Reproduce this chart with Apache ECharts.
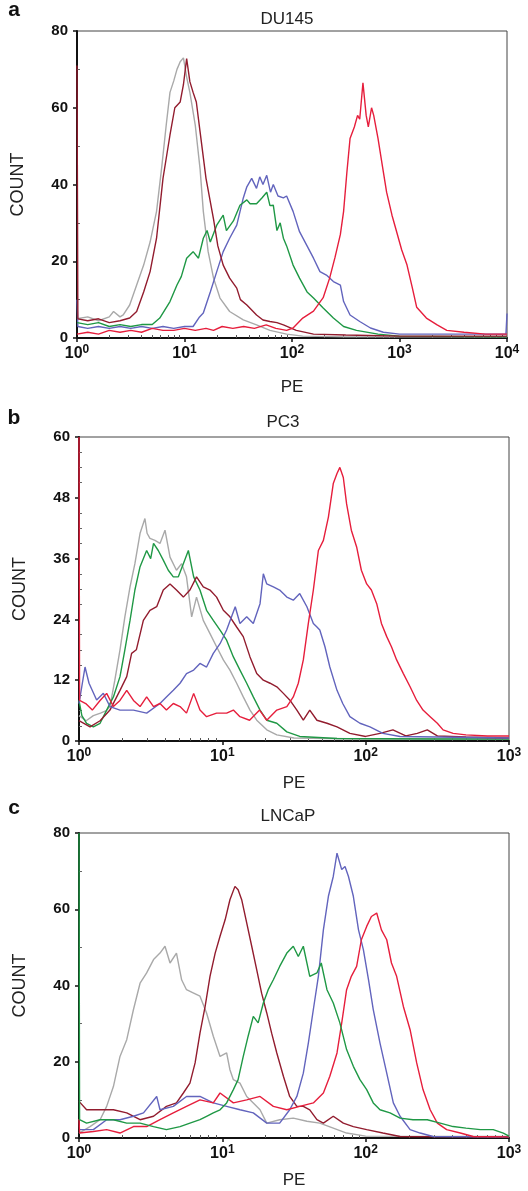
<!DOCTYPE html>
<html>
<head>
<meta charset="utf-8">
<script src="https://cdn.jsdelivr.net/npm/echarts@6/dist/echarts.min.js"></script>
<style>
html,body{margin:0;padding:0;background:#fff;}
#chart{width:528px;height:1191px;}
</style>
</head>
<body>
<div id="chart"></div>
<script>
// x values are in decades: log10(PE); y values are COUNT
const panelLetters = ['a', 'b', 'c'];
const panelTitles = ['DU145', 'PC3', 'LNCaP'];
const xDecades = [4, 3, 3];
const yMax = [80, 60, 80];
const yInterval = [20, 12, 20];
const yMinorStep = [10, 3, 10];
const minorMultipliers = [2, 3, 4, 5, 6, 7, 8, 9];

// ---- Panel a: DU145 ----
const du145_gray = [[0,5],[0.1,5.5],[0.2,4.5],[0.3,5.5],[0.34,6.9],[0.4,5.5],[0.43,6],[0.49,8.6],[0.555,13.8],[0.62,19],[0.68,25],[0.74,33],[0.79,45],[0.83,55.5],[0.865,64],[0.9,67],[0.93,70],[0.96,72],[0.99,73],[1.02,68],[1.05,64],[1.1,55.5],[1.145,44],[1.175,33],[1.22,22.5],[1.27,15.6],[1.33,10.4],[1.42,6.9],[1.547,4.7],[1.67,3.4],[1.795,2],[1.95,1],[2.1,0.5],[2.5,0.3],[4,0.3]];
const du145_blue = [[0,10],[0.008,3],[0.1,2.5],[0.2,3],[0.3,2.5],[0.4,3],[0.5,2.5],[0.6,3],[0.7,2.5],[0.8,3],[0.9,2.5],[1.0,3],[1.08,3],[1.14,5.5],[1.175,6.5],[1.24,12],[1.3,17.3],[1.36,22.5],[1.42,26],[1.486,29.4],[1.547,36.5],[1.58,39.4],[1.625,41.6],[1.67,39],[1.70,42],[1.73,40],[1.765,42.4],[1.8,38],[1.826,40],[1.87,37],[1.92,36.5],[1.95,37],[2.01,33],[2.07,27.7],[2.14,24],[2.2,20.8],[2.26,17.3],[2.32,16.4],[2.385,14.7],[2.45,13.8],[2.48,9.5],[2.54,6],[2.63,4.3],[2.73,2.6],[2.85,1.5],[3,1],[3.5,1],[3.99,1],[4,6.4]];
const du145_green = [[0,4],[0.1,3.5],[0.2,4],[0.3,3],[0.4,3.5],[0.5,3],[0.6,3.5],[0.7,3.5],[0.77,5.2],[0.865,9.5],[0.93,13.8],[0.97,16],[1.02,20.8],[1.08,22.5],[1.13,20.8],[1.175,26],[1.21,28],[1.24,25],[1.3,29.4],[1.36,32],[1.39,28],[1.455,30.5],[1.516,34.6],[1.58,36],[1.61,35],[1.67,35],[1.72,36.5],[1.765,38],[1.795,34.5],[1.826,34.6],[1.86,28],[1.89,30],[1.92,26],[1.95,24],[2.01,19],[2.07,15.6],[2.14,12],[2.2,10.4],[2.29,7.8],[2.385,5.2],[2.48,3],[2.6,2],[2.8,1],[3,0.5],[4,0.3]];
const du145_maroon = [[0,71],[0.008,5],[0.1,4.5],[0.2,5],[0.3,4],[0.4,4.5],[0.49,5.2],[0.555,6.9],[0.62,12],[0.68,17.3],[0.74,26],[0.8,41.6],[0.865,52.9],[0.91,60],[0.96,61.5],[0.99,66],[1.02,72.8],[1.05,66.8],[1.08,64],[1.11,61.5],[1.145,53.7],[1.2,41.6],[1.27,31],[1.31,24],[1.36,19],[1.42,15.6],[1.486,13],[1.52,10],[1.58,8.6],[1.67,6],[1.73,4.7],[1.795,4.3],[1.86,4],[1.92,3.4],[2.04,2],[2.2,1],[2.5,0.8],[3,0.5],[4,0.5]];
const du145_red = [[0,1],[0.1,1.5],[0.2,1],[0.3,2],[0.4,1.5],[0.5,2],[0.6,1.5],[0.7,2.5],[0.8,2],[0.9,2],[1.0,2.5],[1.1,2],[1.2,2.5],[1.27,2],[1.35,3],[1.45,2.5],[1.55,3],[1.65,2.5],[1.76,3.4],[1.85,2.5],[1.95,2],[2.01,2.6],[2.1,5.2],[2.2,7],[2.29,10.5],[2.35,15.6],[2.40,21],[2.45,27],[2.48,33],[2.51,43],[2.54,52],[2.58,55],[2.61,58],[2.63,57],[2.66,66.5],[2.69,58],[2.71,55],[2.74,60],[2.76,58],[2.8,52],[2.84,45],[2.88,38],[2.93,32],[2.97,28],[3.02,23],[3.07,19],[3.12,13],[3.16,8],[3.25,5.2],[3.35,3.4],[3.44,2],[3.6,1.5],[3.8,1],[4,1]];

// ---- Panel b: PC3 ----
const pc3_gray = [[0,5],[0.05,4],[0.1,5],[0.15,5.5],[0.19,6],[0.216,6.8],[0.25,12],[0.286,18],[0.32,24.5],[0.356,30.4],[0.39,35],[0.426,41],[0.46,43.9],[0.475,41],[0.495,40],[0.53,39.6],[0.565,39],[0.6,41.6],[0.635,36.3],[0.68,33.7],[0.716,35],[0.75,32.4],[0.786,24.5],[0.82,28.4],[0.867,23.8],[0.914,21.2],[0.96,18.6],[1.007,16],[1.053,14],[1.1,11.4],[1.146,8.7],[1.193,6.1],[1.24,4.1],[1.31,2.2],[1.38,1.2],[1.5,0.6],[2,0.4],[3,0.4]];
const pc3_green = [[0,8],[0.02,5],[0.053,3.5],[0.1,2.8],[0.147,3.5],[0.193,6.1],[0.24,8.7],[0.286,12.7],[0.32,18],[0.356,23.8],[0.39,29.8],[0.426,34.4],[0.472,37.6],[0.5,36],[0.52,39],[0.553,37.6],[0.588,35.7],[0.623,33.7],[0.658,32.4],[0.693,32.4],[0.728,35],[0.763,37.6],[0.8,32.4],[0.844,29.8],[0.89,25.8],[0.937,23.8],[0.984,21.9],[1.03,19.9],[1.077,16.6],[1.123,14],[1.17,11.4],[1.216,8.7],[1.263,6.1],[1.31,4.1],[1.38,3.5],[1.45,1.8],[1.54,0.9],[1.8,0.5],[2.5,0.4],[3,0.4]];
const pc3_maroon = [[0,4],[0.077,2.8],[0.147,4],[0.216,6.1],[0.286,10],[0.333,12.7],[0.367,17.3],[0.4,18],[0.449,23.8],[0.495,25.8],[0.542,26.5],[0.588,29.8],[0.635,31],[0.68,29.8],[0.728,28.4],[0.774,29.8],[0.82,32.4],[0.867,30.4],[0.914,29.8],[0.96,28.4],[1.007,25.8],[1.053,24.5],[1.1,22.5],[1.146,20.6],[1.193,16.6],[1.24,13.3],[1.286,12],[1.333,11.4],[1.38,10.7],[1.426,9.4],[1.47,8.1],[1.52,6.1],[1.565,4.1],[1.61,6.1],[1.66,4.1],[1.73,3.5],[1.8,2.8],[1.89,1.5],[2.0,0.9],[2.1,1.5],[2.19,2.2],[2.28,1],[2.36,1.5],[2.43,2.2],[2.5,1],[2.7,0.8],[3,0.6]];
const pc3_blue = [[0,7.4],[0.042,14.6],[0.07,11.4],[0.123,8.1],[0.17,9.4],[0.216,6.8],[0.286,6.1],[0.38,6.1],[0.472,5.5],[0.565,7.4],[0.61,8.7],[0.658,10],[0.705,11.4],[0.75,13.3],[0.8,14],[0.844,15.3],[0.89,14.6],[0.937,17.3],[0.984,19.2],[1.03,21.9],[1.09,26.5],[1.123,23.2],[1.17,24.5],[1.216,23.2],[1.263,27.1],[1.286,33],[1.31,31],[1.356,30.4],[1.4,29.8],[1.45,28.4],[1.495,27.8],[1.54,29.1],[1.59,26.5],[1.635,23.2],[1.66,22.5],[1.68,21.9],[1.716,18.6],[1.75,14.6],[1.8,10],[1.84,7.4],[1.89,4.8],[1.96,3.5],[2.03,2.8],[2.12,1.5],[2.24,0.9],[2.5,0.8],[3,0.6]];
const pc3_red = [[0,60],[0.004,8],[0.047,7.4],[0.093,6.1],[0.147,8],[0.193,9.4],[0.24,6.8],[0.286,8],[0.333,10],[0.38,8],[0.426,6.8],[0.472,8.7],[0.52,6.8],[0.565,7.4],[0.61,6.1],[0.658,7.4],[0.705,6.8],[0.75,5.5],[0.8,9.4],[0.844,6.1],[0.89,4.8],[0.96,5.5],[1.03,5.5],[1.077,6.1],[1.123,4.8],[1.19,4.1],[1.26,6.1],[1.31,4.1],[1.38,6.1],[1.45,6.8],[1.495,8.7],[1.53,11.4],[1.565,16],[1.6,23.2],[1.635,29.8],[1.67,37.6],[1.705,39.6],[1.74,44.2],[1.774,50.8],[1.8,52.8],[1.82,54],[1.844,52],[1.867,46.8],[1.9,41.6],[1.937,38.3],[1.97,33.7],[2.007,31],[2.04,29.8],[2.077,27.1],[2.11,23.2],[2.147,20.6],[2.18,18.6],[2.216,16],[2.263,13.3],[2.31,10.7],[2.356,8],[2.4,6.1],[2.45,4.8],[2.5,3.5],[2.54,2.2],[2.61,1.5],[2.7,1.2],[2.85,1],[3,1]];

// ---- Panel c: LNCaP ----
const lncap_gray = [[0,1.3],[0.077,3],[0.147,4.8],[0.193,8.3],[0.24,13.5],[0.286,21.4],[0.333,25.8],[0.38,33.7],[0.426,40.6],[0.472,43.3],[0.52,46.8],[0.565,48.5],[0.6,50.3],[0.635,45.9],[0.68,48.5],[0.716,41.5],[0.75,38.9],[0.8,38],[0.844,37.2],[0.89,32.8],[0.937,26.7],[0.984,21.4],[1.03,22.3],[1.053,17.9],[1.077,15.3],[1.123,14.4],[1.17,10.9],[1.216,9.2],[1.263,7.4],[1.31,3.9],[1.4,4.8],[1.495,5.2],[1.59,4.4],[1.68,3.9],[1.774,2.6],[1.867,1.3],[2,0.5],[3,0.4]];
const lncap_maroon = [[0,9.6],[0.053,7.4],[0.147,7.4],[0.24,7.4],[0.333,6.6],[0.426,4.8],[0.52,5.7],[0.61,8.3],[0.68,9.2],[0.728,11.8],[0.774,14.4],[0.81,19.7],[0.844,27.5],[0.88,34.5],[0.914,42.4],[0.95,48.5],[0.984,52.9],[1.02,57.3],[1.053,62.5],[1.088,66],[1.11,65.1],[1.135,62.5],[1.17,56.4],[1.205,50.3],[1.24,44.1],[1.274,38],[1.31,32.8],[1.344,27.5],[1.38,22.3],[1.426,16.2],[1.47,10.9],[1.52,8.3],[1.565,8.3],[1.61,7.4],[1.66,4.8],[1.705,3.9],[1.774,5.7],[1.844,3.9],[1.914,3],[2.007,2.2],[2.12,1.3],[2.24,0.4],[3,0.3]];
const lncap_blue = [[0,2.2],[0.1,2.2],[0.193,4.8],[0.286,4.8],[0.38,5.7],[0.45,6.6],[0.542,10.9],[0.565,7.4],[0.658,8.3],[0.75,10.9],[0.844,10.9],[0.937,9.2],[1.03,8.3],[1.123,7.4],[1.216,6.6],[1.31,3.9],[1.4,3.9],[1.47,7.4],[1.52,10.9],[1.565,17],[1.6,24.9],[1.635,33.7],[1.67,42.4],[1.705,54.6],[1.74,63.4],[1.774,68.6],[1.8,74.7],[1.833,70.4],[1.856,71.2],[1.88,68.6],[1.914,63.4],[1.95,54.6],[1.984,49.4],[2.02,41.5],[2.053,33.7],[2.1,24.9],[2.147,17],[2.193,9.2],[2.24,5.7],[2.31,2.2],[2.38,1.3],[2.47,0.4],[3,0.3]];
const lncap_green = [[0,80],[0.004,4.8],[0.053,3.9],[0.147,4.8],[0.24,4.8],[0.333,3.9],[0.426,3.9],[0.52,3],[0.61,2.2],[0.705,3],[0.774,3.9],[0.844,4.8],[0.89,5.7],[0.937,6.6],[0.984,7.4],[1.03,9.2],[1.077,12.7],[1.11,15.3],[1.146,21.4],[1.18,26.7],[1.216,31.9],[1.25,30.2],[1.286,35.4],[1.32,38.9],[1.356,41.5],[1.4,45],[1.45,48.5],[1.495,50.3],[1.53,47.6],[1.565,50.3],[1.61,42.4],[1.66,43.3],[1.69,45.9],[1.73,38.9],[1.774,35.4],[1.82,30.2],[1.867,23.2],[1.914,18.8],[1.96,15.3],[2.007,12.7],[2.053,9.2],[2.1,7.4],[2.17,6.6],[2.24,5.2],[2.33,4.8],[2.43,4.8],[2.52,3.9],[2.61,3],[2.7,2.6],[2.8,2.2],[2.89,2.2],[2.96,1.3],[3,0.5]];
const lncap_red = [[0,5],[0.004,1.3],[0.1,1.7],[0.193,2.2],[0.286,1.3],[0.38,3],[0.472,3],[0.565,4.8],[0.658,6.6],[0.75,8.3],[0.844,10],[0.937,9.2],[0.984,11.8],[1.077,9.2],[1.17,10],[1.263,10.9],[1.356,8.3],[1.45,7.4],[1.54,8.3],[1.635,9.2],[1.705,11.8],[1.75,16.2],[1.8,22.3],[1.833,30.2],[1.867,38.9],[1.9,42.4],[1.937,45],[1.97,52],[2.007,55.5],[2.04,58.1],[2.077,59],[2.11,54.6],[2.147,52],[2.18,45.9],[2.216,42.4],[2.263,34.5],[2.31,28.4],[2.356,19.7],[2.4,12.7],[2.45,7.4],[2.5,3.9],[2.565,2.2],[2.66,1.3],[2.75,0.4],[3,0.3]];

const colors = {gray:'#a9a9a9', maroon:'#921c2e', green:'#1f9845', blue:'#6264bd', red:'#e61e3c'};
const panelSeries = [
  [['gray',du145_gray],['blue',du145_blue],['green',du145_green],['maroon',du145_maroon],['red',du145_red]],
  [['gray',pc3_gray],['green',pc3_green],['maroon',pc3_maroon],['blue',pc3_blue],['red',pc3_red]],
  [['gray',lncap_gray],['maroon',lncap_maroon],['blue',lncap_blue],['red',lncap_red],['green',lncap_green]]
];

const FONT = '"Liberation Sans", Arial, Helvetica, sans-serif';
const grids = [
  {left:77, top:31, width:430, height:307},
  {left:79, top:437, width:430, height:304},
  {left:79, top:833, width:430, height:305}
];
const peGaps = [41, 34, 34];
const letterY = [10, 418, 808];
const titleY = [19, 422.5, 816];
const titleX = [287, 283, 288];

const xAxes = [], yAxes = [], series = [], graphics = [];
grids.forEach((g, k) => {
  const xMinor = [];
  for (let d = 0; d < xDecades[k]; d++) minorMultipliers.forEach(m => xMinor.push(d + Math.log10(m)));
  const yMinor = [];
  for (let v = yMinorStep[k]; v < yMax[k]; v += yMinorStep[k]) if (v % yInterval[k] !== 0) yMinor.push(v);

  xAxes.push({
    gridIndex:k, type:'value', min:0, max:xDecades[k], interval:1, position:'bottom',
    axisLine:{show:true, onZero:false, lineStyle:{color:'#111', width:2}},
    axisTick:{show:true, length:4, lineStyle:{color:'#111', width:1.5}},
    splitLine:{show:false},
    axisLabel:{margin:6, formatter:v => '{b|10}{s|' + v + '}',
      rich:{b:{fontSize:16, fontWeight:'bold', color:'#111', fontFamily:FONT, lineHeight:19},
            s:{fontSize:12, fontWeight:'bold', color:'#111', fontFamily:FONT, lineHeight:12, verticalAlign:'top'}}},
    name:'PE', nameLocation:'middle', nameGap:peGaps[k],
    nameTextStyle:{fontSize:17, color:'#222', fontFamily:FONT}
  });
  xAxes.push({
    gridIndex:k, type:'value', min:0, max:xDecades[k], position:'bottom',
    axisLine:{show:false}, axisLabel:{show:false}, splitLine:{show:false},
    axisTick:{show:true, inside:true, length:3, customValues:xMinor, lineStyle:{color:'#555', width:1}}
  });
  yAxes.push({
    gridIndex:k, type:'value', min:0, max:yMax[k], interval:yInterval[k], position:'left',
    axisLine:{show:true, onZero:false, lineStyle:{color:'#111', width:2}},
    axisTick:{show:true, length:4, lineStyle:{color:'#111', width:1.5}},
    splitLine:{show:false},
    axisLabel:{margin:9, fontSize:15, fontWeight:'bold', color:'#111', fontFamily:FONT},
    name:'COUNT', nameLocation:'middle', nameGap:50,
    nameTextStyle:{fontSize:18, color:'#222', fontFamily:FONT}
  });
  yAxes.push({
    gridIndex:k, type:'value', min:0, max:yMax[k], position:'left',
    axisLine:{show:false}, axisLabel:{show:false}, splitLine:{show:false},
    axisTick:{show:true, inside:true, length:3, customValues:yMinor, lineStyle:{color:'#666', width:1}}
  });
  panelSeries[k].forEach(([c, data], i) => {
    series.push({
      type:'line', xAxisIndex:2*k, yAxisIndex:2*k, data:data,
      showSymbol:false, symbol:'none', silent:true, z:2+i,
      lineStyle:{color:colors[c], width:1.4}, itemStyle:{color:colors[c]}
    });
  });
  graphics.push({type:'text', x:14, y:letterY[k], style:{text:panelLetters[k], fill:'#111',
    font:'bold 21px ' + FONT, textAlign:'center', textVerticalAlign:'middle', align:'center', verticalAlign:'middle'}});
  graphics.push({type:'text', x:titleX[k], y:titleY[k], style:{text:panelTitles[k], fill:'#222',
    font:'17px ' + FONT, textAlign:'center', textVerticalAlign:'middle', align:'center', verticalAlign:'middle'}});
});

const chart = echarts.init(document.getElementById('chart'), null, {renderer:'canvas'});
chart.setOption({
  backgroundColor:'#fff',
  animation:false,
  grid: grids.map(g => Object.assign({show:true, borderColor:'#444', borderWidth:1, backgroundColor:'transparent', containLabel:false, outerBoundsMode:'none'}, g)),
  xAxis: xAxes,
  yAxis: yAxes,
  series: series,
  graphic: graphics
});
</script>
</body>
</html>
